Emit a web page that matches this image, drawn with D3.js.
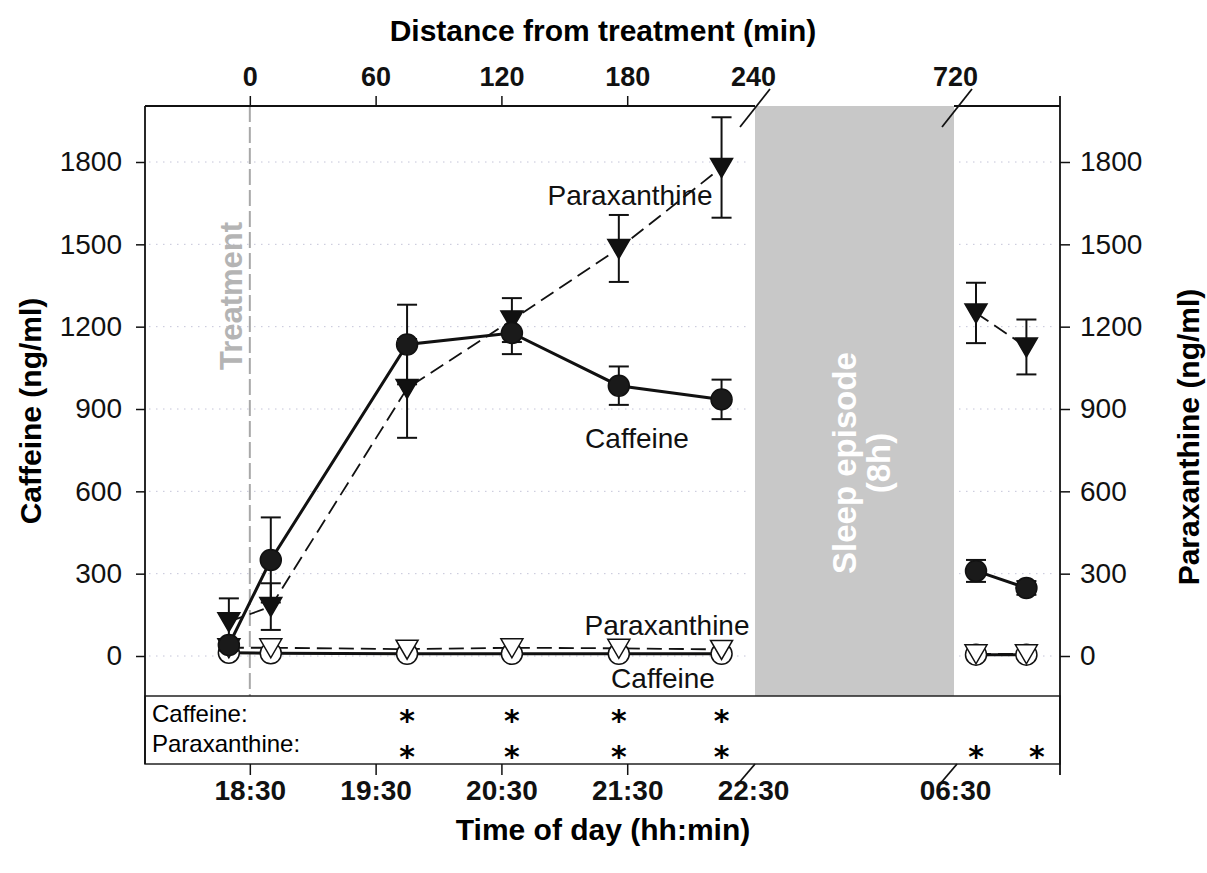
<!DOCTYPE html>
<html>
<head>
<meta charset="utf-8">
<script src="https://cdn.jsdelivr.net/npm/d3@7"></script>
<style>
  body { margin: 0; background: #fff; }
  svg text { font-family: "Liberation Sans", Arial, sans-serif; }
</style>
</head>
<body>
<svg id="chart"></svg>
<script>
// sampling times in minutes from treatment (evening 6 samples, morning 2)
const times = [-10, 10, 75, 125, 176, 225, 730, 754];
const caffeine = [40, 350, 1135, 1177, 985, 935, 310, 248];
const caffeineErr = [20, 155, 145, 77, 70, 72, 40, 25];
const paraxanthine = [125, 180, 975, 1224, 1485, 1780, 1250, 1126];
const paraxanthineErr = [85, 85, 180, 80, 122, 183, 110, 100];
const caffeinePlacebo = [12, 10, 8, 8, 8, 8, 5, 5];
const paraxanthinePlacebo = [30, 30, 25, 30, 28, 24, 8, 8];

// significance stars (minutes)
const caffeineStars = [75, 125, 176, 225];
const paraxanthineStars = [75, 125, 176, 225, 730, 759];

const topTicks = [0, 60, 120, 180, 240, 720];
const bottomTicks = [0, 60, 120, 180, 240, 720];
const bottomLabels = ['18:30', '19:30', '20:30', '21:30', '22:30', '06:30'];
const yTicks = [0, 300, 600, 900, 1200, 1500, 1800];

const W = 1207, H = 873;
const plotLeft = 145, plotRight = 1060, plotTop = 106, tableTop = 696, tableBottom = 764;

const svg = d3.select('#chart').attr('width', W).attr('height', H);

// broken time axis: 240 -> 720 is squeezed into the sleep block
const x = d3.scaleLinear().domain([-50, 240, 720, 770]).range([plotLeft, 753, 955, plotRight]);
const y = d3.scaleLinear().domain([0, 1800]).range([656, 162]);

// sleep episode block
svg.append('rect')
    .attr('x', x(240) + 2)
    .attr('y', plotTop)
    .attr('width', x(720) - x(240) - 3)
    .attr('height', tableTop - plotTop)
    .attr('fill', '#c8c8c8');

// dotted grid, kept out of the sleep block
const gridSegs = [[plotLeft, x(240)], [x(720), plotRight]];
yTicks.forEach(v => {
    gridSegs.forEach(s => {
        svg.append('line')
            .attr('x1', s[0] + 4).attr('x2', s[1] - 4)
            .attr('y1', y(v)).attr('y2', y(v))
            .attr('stroke', '#c4c4d8')
            .attr('stroke-width', 1)
            .attr('stroke-dasharray', '1.5,5.5');
    });
});

// treatment line
svg.append('line')
    .attr('x1', x(0)).attr('x2', x(0))
    .attr('y1', plotTop).attr('y2', tableTop)
    .attr('stroke', '#a8a8a8')
    .attr('stroke-width', 2)
    .attr('stroke-dasharray', '16,5');

svg.append('text')
    .attr('transform', `translate(${x(0) - 8},296) rotate(-90)`)
    .attr('text-anchor', 'middle')
    .attr('font-size', 31)
    .attr('font-weight', 'bold')
    .attr('fill', '#b4b4b4')
    .text('Treatment');

// sleep label
const sleepX = (x(240) + x(720)) / 2;
svg.append('text')
    .attr('transform', `translate(${sleepX + 2},463) rotate(-90)`)
    .attr('text-anchor', 'middle')
    .attr('font-size', 33)
    .attr('font-weight', 'bold')
    .attr('fill', '#fff')
    .text('Sleep episode');
svg.append('text')
    .attr('transform', `translate(${sleepX + 36},463) rotate(-90)`)
    .attr('text-anchor', 'middle')
    .attr('font-size', 33)
    .attr('font-weight', 'bold')
    .attr('fill', '#fff')
    .text('(8h)');

// index sets for the two segments either side of the break
const idx = d3.range(times.length);
const evening = idx.filter(i => times[i] <= 240);
const morning = idx.filter(i => times[i] >= 720);

function seriesLine(vals, dash, width) {
    const line = d3.line().x(i => x(times[i])).y(i => y(vals[i]));
    [evening, morning].forEach(seg => {
        svg.append('path')
            .attr('d', line(seg))
            .attr('fill', 'none')
            .attr('stroke', '#111')
            .attr('stroke-width', width)
            .attr('stroke-dasharray', dash);
    });
}

function errorBars(vals, errs) {
    const g = svg.append('g').attr('stroke', '#111').attr('stroke-width', 2);
    idx.forEach(i => {
        const cx = x(times[i]);
        const y1 = y(vals[i] + errs[i]), y2 = y(vals[i] - errs[i]);
        g.append('line').attr('x1', cx).attr('x2', cx).attr('y1', y1).attr('y2', y2);
        g.append('line').attr('x1', cx - 10).attr('x2', cx + 10).attr('y1', y1).attr('y2', y1);
        g.append('line').attr('x1', cx - 10).attr('x2', cx + 10).attr('y1', y2).attr('y2', y2);
    });
}

const triangle = 'M-11,-9L11,-9L0,10Z';

function circles(vals, fill) {
    svg.append('g').selectAll('circle')
        .data(idx)
        .join('circle')
        .attr('cx', i => x(times[i]))
        .attr('cy', i => y(vals[i]))
        .attr('r', 10.5)
        .attr('fill', fill)
        .attr('stroke', '#111')
        .attr('stroke-width', 1.5);
}

function triangles(vals, fill) {
    svg.append('g').selectAll('path')
        .data(idx)
        .join('path')
        .attr('transform', i => `translate(${x(times[i])},${y(vals[i])})`)
        .attr('d', triangle)
        .attr('fill', fill)
        .attr('stroke', '#111')
        .attr('stroke-width', 1.5)
        .attr('stroke-linejoin', 'miter');
}

// placebo (open symbols)
seriesLine(caffeinePlacebo, null, 3);
seriesLine(paraxanthinePlacebo, '15,7', 1.8);
circles(caffeinePlacebo, '#fff');
triangles(paraxanthinePlacebo, '#fff');

// caffeine treatment (filled symbols)
errorBars(paraxanthine, paraxanthineErr);
errorBars(caffeine, caffeineErr);
seriesLine(paraxanthine, '15,7', 1.8);
seriesLine(caffeine, null, 3);
triangles(paraxanthine, '#111');
circles(caffeine, '#1a1a1a');

// series labels
const labelFont = 28;
[['Paraxanthine', 630, 205], ['Caffeine', 637, 448], ['Paraxanthine', 667, 635], ['Caffeine', 663, 688]]
    .forEach(d => {
        svg.append('text')
            .attr('x', d[1]).attr('y', d[2])
            .attr('text-anchor', 'middle')
            .attr('font-size', labelFont)
            .attr('fill', '#111')
            .text(d[0]);
    });

// significance table
svg.append('rect')
    .attr('x', plotLeft).attr('y', tableTop)
    .attr('width', plotRight - plotLeft).attr('height', tableBottom - tableTop)
    .attr('fill', '#fff')
    .attr('stroke', '#222')
    .attr('stroke-width', 1.5);

svg.append('text').attr('x', 152).attr('y', 722).attr('font-size', 24).text('Caffeine:');
svg.append('text').attr('x', 152).attr('y', 752).attr('font-size', 24).text('Paraxanthine:');

function stars(list, cy) {
    svg.append('g').selectAll('text')
        .data(list)
        .join('text')
        .attr('x', d => x(d))
        .attr('y', cy + 18)
        .attr('text-anchor', 'middle')
        .style('font-family', '"DejaVu Sans", sans-serif')
        .attr('font-size', 30)
        .attr('font-weight', 'bold')
        .text('*');
}
stars(caffeineStars, 713);
stars(paraxanthineStars, 749);

// axes
const axisStyle = g => {
    g.select('.domain').remove();
    g.selectAll('.tick line').attr('stroke', '#111').attr('stroke-width', 1.5);
    g.selectAll('.tick text').attr('fill', '#111');
};

svg.append('g')
    .attr('transform', `translate(${plotLeft},0)`)
    .call(d3.axisLeft(y).tickValues(yTicks).tickFormat(d3.format('d')).tickSize(9).tickPadding(14))
    .call(axisStyle)
    .selectAll('.tick text').attr('font-size', 28);

svg.append('g')
    .attr('transform', `translate(${plotRight},0)`)
    .call(d3.axisRight(y).tickValues(yTicks).tickFormat(d3.format('d')).tickSize(10).tickPadding(10))
    .call(axisStyle)
    .selectAll('.tick text').attr('font-size', 28);

const topAxis = svg.append('g')
    .attr('transform', `translate(0,${plotTop})`)
    .call(d3.axisTop(x).tickValues(topTicks).tickFormat(d3.format('d')).tickSize(10).tickPadding(10))
    .call(axisStyle);
topAxis.selectAll('.tick text').attr('font-size', 27).attr('font-weight', 'bold');
topAxis.selectAll('.tick').filter(d => d >= 240).select('line').remove();

const bottomAxis = svg.append('g')
    .attr('transform', `translate(0,${tableBottom})`)
    .call(d3.axisBottom(x).tickValues(bottomTicks)
        .tickFormat((d, i) => bottomLabels[i]).tickSize(11).tickPadding(5))
    .call(axisStyle);
bottomAxis.selectAll('.tick text').attr('font-size', 28).attr('font-weight', 'bold');
bottomAxis.selectAll('.tick').filter(d => d >= 240).select('line').remove();

// frame lines
const frame = svg.append('g').attr('stroke', '#111').attr('stroke-width', 1.8).attr('fill', 'none');
frame.append('line').attr('x1', plotLeft).attr('x2', plotLeft).attr('y1', plotTop).attr('y2', tableBottom);
frame.append('line').attr('x1', plotRight).attr('x2', plotRight).attr('y1', plotTop - 10).attr('y2', tableBottom + 11);
frame.append('line').attr('x1', plotLeft).attr('x2', x(240) + 2).attr('y1', plotTop).attr('y2', plotTop);
frame.append('line').attr('x1', x(720) - 1).attr('x2', plotRight).attr('y1', plotTop).attr('y2', plotTop);

// axis break marks
[240, 720].forEach(v => {
    const bx = x(v) + 2;
    frame.append('line').attr('x1', bx - 15).attr('y1', plotTop + 21).attr('x2', bx + 15).attr('y2', plotTop - 17);
    frame.append('line').attr('x1', bx - 17).attr('y1', tableBottom + 20).attr('x2', bx).attr('y2', tableBottom);
});

// axis titles
svg.append('text')
    .attr('x', 603).attr('y', 41)
    .attr('text-anchor', 'middle')
    .attr('font-size', 30).attr('font-weight', 'bold')
    .text('Distance from treatment (min)');

svg.append('text')
    .attr('x', 603).attr('y', 840)
    .attr('text-anchor', 'middle')
    .attr('font-size', 30).attr('font-weight', 'bold')
    .text('Time of day (hh:min)');

svg.append('text')
    .attr('transform', 'translate(41,411) rotate(-90)')
    .attr('text-anchor', 'middle')
    .attr('font-size', 30).attr('font-weight', 'bold')
    .text('Caffeine (ng/ml)');

svg.append('text')
    .attr('transform', 'translate(1199,437) rotate(-90)')
    .attr('text-anchor', 'middle')
    .attr('font-size', 30).attr('font-weight', 'bold')
    .text('Paraxanthine (ng/ml)');
</script>
</body>
</html>
